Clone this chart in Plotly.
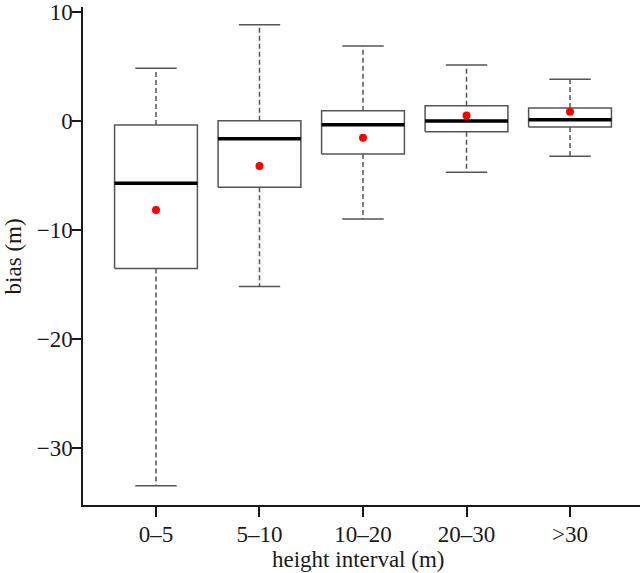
import plotly.graph_objects as go

categories = ["0–5", "5–10", "10–20", "20–30", ">30"]
lower_whisker = [-33.5, -15.2, -9.0, -4.7, -3.24]
q1 = [-13.55, -6.09, -3.04, -0.98, -0.55]
median = [-5.72, -1.63, -0.34, 0.0, 0.12]
q3 = [-0.37, 0.03, 0.95, 1.4, 1.19]
upper_whisker = [4.84, 8.84, 6.89, 5.14, 3.83]
mean = [-8.17, -4.13, -1.53, 0.5, 0.86]

positions = [i + 1 for i in range(len(categories))]
half_box = 0.4
half_cap = 0.2

box_x, box_y = [], []
med_x, med_y = [], []
wh_x, wh_y = [], []
cap_x, cap_y = [], []
for p, lo, a, m, b, hi in zip(positions, lower_whisker, q1, median, q3, upper_whisker):
    box_x += [p - half_box, p + half_box, p + half_box, p - half_box, p - half_box, None]
    box_y += [a, a, b, b, a, None]
    med_x += [p - half_box, p + half_box, None]
    med_y += [m, m, None]
    wh_x += [p, p, None, p, p, None]
    wh_y += [b, hi, None, a, lo, None]
    cap_x += [p - half_cap, p + half_cap, None, p - half_cap, p + half_cap, None]
    cap_y += [hi, hi, None, lo, lo, None]

fig = go.Figure()
fig.add_trace(go.Scatter(x=wh_x, y=wh_y, mode="lines",
                         line=dict(color="#555555", width=1.5, dash="5px,3px"),
                         hoverinfo="skip", showlegend=False))
fig.add_trace(go.Scatter(x=cap_x, y=cap_y, mode="lines",
                         line=dict(color="#555555", width=1.5),
                         hoverinfo="skip", showlegend=False))
fig.add_trace(go.Scatter(x=box_x, y=box_y, mode="lines",
                         line=dict(color="#555555", width=1.5),
                         fill="toself", fillcolor="white",
                         hoverinfo="skip", showlegend=False))
fig.add_trace(go.Scatter(x=med_x, y=med_y, mode="lines",
                         line=dict(color="black", width=3.5),
                         hoverinfo="skip", showlegend=False))
fig.add_trace(go.Scatter(x=positions, y=mean, mode="markers",
                         marker=dict(color="#ff0000", size=8),
                         showlegend=False))

font = dict(family="Liberation Serif", size=23, color="#1a1a1a")

fig.update_layout(
    width=640, height=573,
    margin=dict(l=83, r=0, t=7, b=68),
    paper_bgcolor="white", plot_bgcolor="white",
    font=font,
    xaxis=dict(range=[0.295, 5.676], tickvals=positions, ticktext=categories,
               showgrid=False, zeroline=False, showline=True, linecolor="#1a1a1a",
               linewidth=1.5, ticks="outside", ticklen=10, tickwidth=1.5,
               tickcolor="#1a1a1a", tickfont=font, automargin=False,
               ticklabelstandoff=-2),
    yaxis=dict(range=[-35.26, 10.47], tickvals=[10, 0, -10, -20, -30],
               showgrid=False, zeroline=False, showline=True, linecolor="#1a1a1a",
               linewidth=1.5, ticks="outside", ticklen=9, tickwidth=1.5,
               tickcolor="#1a1a1a", tickfont=font, automargin=False,
               ticklabelstandoff=-5),
    annotations=[
        dict(text="height interval (m)", xref="paper", yref="paper",
             x=0.493, y=-0.110, xanchor="center", yanchor="middle",
             showarrow=False, font=font),
        dict(text="bias (m)", xref="paper", yref="paper",
             x=-0.125, y=0.50, xanchor="center", yanchor="middle",
             textangle=-90, showarrow=False, font=font),
    ],
)

fig.write_html("out.html", config={"displayModeBar": False},
               post_script="document.body.style.margin='0';document.body.style.padding='0';")
